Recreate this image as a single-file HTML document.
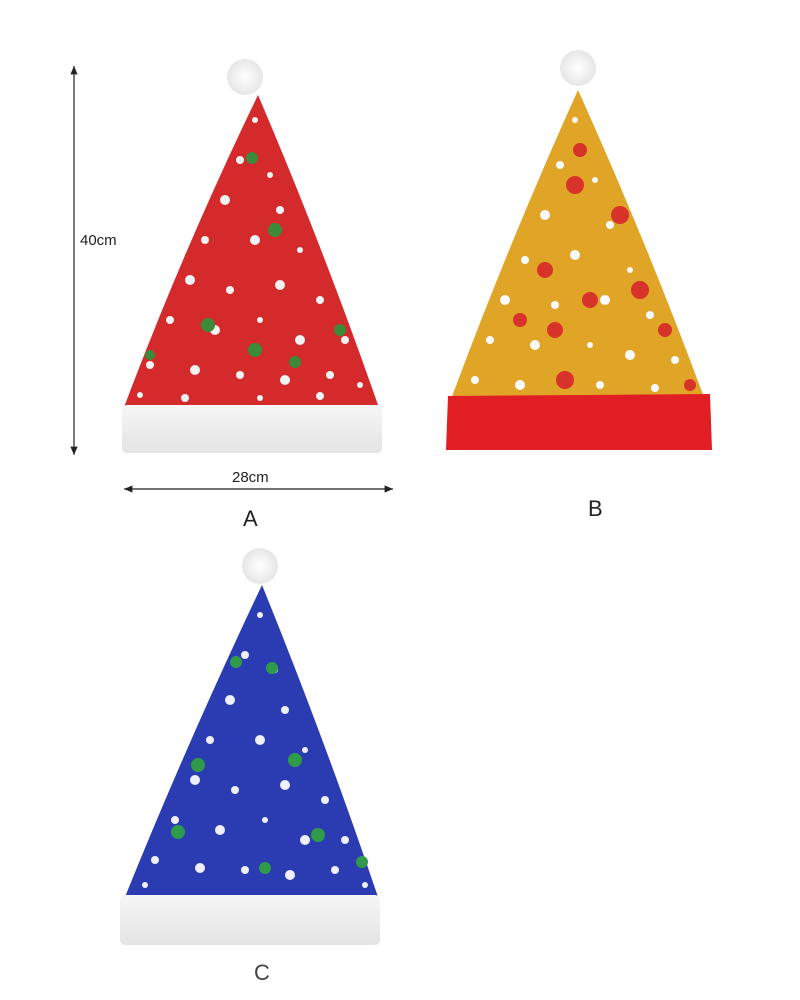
<!DOCTYPE html>
<html><head><meta charset="utf-8"><style>
html,body{margin:0;padding:0;background:#fff;}
svg{display:block}
text{font-family:"Liberation Sans",sans-serif;}
</style></head><body>
<svg width="800" height="1000" viewBox="0 0 800 1000">
<defs>
<marker id="ar" markerWidth="8" markerHeight="8" refX="7" refY="4" orient="auto-start-reverse"><path d="M0,1 L7,4 L0,7 Z" fill="#222"/></marker>
<linearGradient id="wb" x1="0" y1="0" x2="0" y2="1"><stop offset="0" stop-color="#f6f6f6"/><stop offset="1" stop-color="#e4e4e4"/></linearGradient>
<radialGradient id="pp"><stop offset="0" stop-color="#fff"/><stop offset="1" stop-color="#e6e6e6"/></radialGradient>
</defs>
<line x1="74" y1="66" x2="74" y2="455" stroke="#222" stroke-width="1.2" marker-start="url(#ar)" marker-end="url(#ar)"/>
<text x="80" y="245" font-size="15" fill="#222">40cm</text>
<line x1="124" y1="489" x2="393" y2="489" stroke="#222" stroke-width="1.2" marker-start="url(#ar)" marker-end="url(#ar)"/>
<text x="232" y="482" font-size="15" fill="#222">28cm</text>
<text x="243" y="526" font-size="22" fill="#222">A</text>
<text x="588" y="516" font-size="22" fill="#222">B</text>
<text x="254" y="980" font-size="22" fill="#444">C</text>

<!-- Hat A -->
<path d="M258,95 Q323,247 378,405 L123,410 Q183,250 258,95 Z" fill="#d42a2c"/>
<g fill="#f2f2f2">
<circle cx="255" cy="120" r="3"/><circle cx="240" cy="160" r="4"/><circle cx="270" cy="175" r="3"/><circle cx="225" cy="200" r="5"/><circle cx="280" cy="210" r="4"/><circle cx="205" cy="240" r="4"/><circle cx="255" cy="240" r="5"/><circle cx="300" cy="250" r="3"/><circle cx="190" cy="280" r="5"/><circle cx="230" cy="290" r="4"/><circle cx="280" cy="285" r="5"/><circle cx="320" cy="300" r="4"/><circle cx="170" cy="320" r="4"/><circle cx="215" cy="330" r="5"/><circle cx="260" cy="320" r="3"/><circle cx="300" cy="340" r="5"/><circle cx="345" cy="340" r="4"/><circle cx="150" cy="365" r="4"/><circle cx="195" cy="370" r="5"/><circle cx="240" cy="375" r="4"/><circle cx="285" cy="380" r="5"/><circle cx="330" cy="375" r="4"/><circle cx="360" cy="385" r="3"/><circle cx="140" cy="395" r="3"/><circle cx="185" cy="398" r="4"/><circle cx="260" cy="398" r="3"/><circle cx="320" cy="396" r="4"/>
</g>
<g fill="#3a8a3a">
<circle cx="252" cy="158" r="6"/><circle cx="275" cy="230" r="7"/><circle cx="208" cy="325" r="7"/><circle cx="255" cy="350" r="7"/><circle cx="340" cy="330" r="6"/><circle cx="150" cy="355" r="5"/><circle cx="295" cy="362" r="6"/>
</g>
<rect x="122" y="405" width="260" height="48" rx="5" fill="url(#wb)"/>
<circle cx="245" cy="77" r="18" fill="url(#pp)"/>

<!-- Hat B -->
<path d="M578,90 Q647,243 705,400 L450,402 Q508,245 578,90 Z" fill="#e0a526"/>
<g fill="#fafafa">
<circle cx="575" cy="120" r="3"/><circle cx="560" cy="165" r="4"/><circle cx="595" cy="180" r="3"/><circle cx="545" cy="215" r="5"/><circle cx="610" cy="225" r="4"/><circle cx="525" cy="260" r="4"/><circle cx="575" cy="255" r="5"/><circle cx="630" cy="270" r="3"/><circle cx="505" cy="300" r="5"/><circle cx="555" cy="305" r="4"/><circle cx="605" cy="300" r="5"/><circle cx="650" cy="315" r="4"/><circle cx="490" cy="340" r="4"/><circle cx="535" cy="345" r="5"/><circle cx="590" cy="345" r="3"/><circle cx="630" cy="355" r="5"/><circle cx="675" cy="360" r="4"/><circle cx="475" cy="380" r="4"/><circle cx="520" cy="385" r="5"/><circle cx="600" cy="385" r="4"/><circle cx="655" cy="388" r="4"/>
</g>
<g fill="#d8332a">
<circle cx="580" cy="150" r="7"/><circle cx="575" cy="185" r="9"/><circle cx="620" cy="215" r="9"/><circle cx="545" cy="270" r="8"/><circle cx="640" cy="290" r="9"/><circle cx="520" cy="320" r="7"/><circle cx="555" cy="330" r="8"/><circle cx="590" cy="300" r="8"/><circle cx="665" cy="330" r="7"/><circle cx="565" cy="380" r="9"/><circle cx="690" cy="385" r="6"/>
</g>
<path d="M448,396 L710,394 L712,450 L446,450 Z" fill="#e01e24"/>
<circle cx="578" cy="68" r="18" fill="url(#pp)"/>

<!-- Hat C -->
<path d="M262,585 Q326,743 378,897 L125,897 Q187,743 262,585 Z" fill="#2b3cb3"/>
<g fill="#eef0ff">
<circle cx="260" cy="615" r="3"/><circle cx="245" cy="655" r="4"/><circle cx="275" cy="670" r="3"/><circle cx="230" cy="700" r="5"/><circle cx="285" cy="710" r="4"/><circle cx="210" cy="740" r="4"/><circle cx="260" cy="740" r="5"/><circle cx="305" cy="750" r="3"/><circle cx="195" cy="780" r="5"/><circle cx="235" cy="790" r="4"/><circle cx="285" cy="785" r="5"/><circle cx="325" cy="800" r="4"/><circle cx="175" cy="820" r="4"/><circle cx="220" cy="830" r="5"/><circle cx="265" cy="820" r="3"/><circle cx="305" cy="840" r="5"/><circle cx="345" cy="840" r="4"/><circle cx="155" cy="860" r="4"/><circle cx="200" cy="868" r="5"/><circle cx="245" cy="870" r="4"/><circle cx="290" cy="875" r="5"/><circle cx="335" cy="870" r="4"/><circle cx="145" cy="885" r="3"/><circle cx="365" cy="885" r="3"/>
</g>
<g fill="#2f9a4a">
<circle cx="236" cy="662" r="6"/><circle cx="272" cy="668" r="6"/><circle cx="198" cy="765" r="7"/><circle cx="295" cy="760" r="7"/><circle cx="318" cy="835" r="7"/><circle cx="178" cy="832" r="7"/><circle cx="265" cy="868" r="6"/><circle cx="362" cy="862" r="6"/>
</g>
<rect x="120" y="895" width="260" height="50" rx="5" fill="url(#wb)"/>
<circle cx="260" cy="566" r="18" fill="url(#pp)"/>
</svg>
</body></html>
